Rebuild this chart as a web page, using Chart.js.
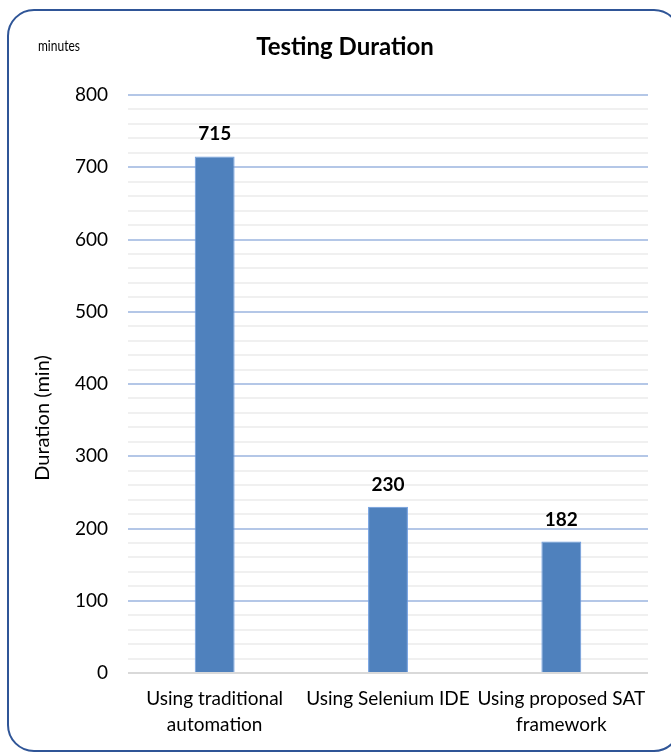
<!DOCTYPE html>
<html>
<head>
<meta charset="utf-8">
<script src="https://cdn.jsdelivr.net/npm/chart.js@4/dist/chart.umd.min.js"></script>
<style>
html,body{margin:0;padding:0;background:#fff;}
#wrap{width:671px;height:753px;position:relative;}
</style>
</head>
<body>
<div id="wrap"><canvas id="c" width="671" height="753"></canvas></div>
<script>
const categories = [['Using traditional','automation'], ['Using Selenium IDE'], ['Using proposed SAT','framework']];
const durations = [715, 230, 182];
const yMin = 0, yMax = 800, yMinorStep = 20, yMajorStep = 100;
const chartTitle = 'Testing Duration';
const unitNote = 'minutes';
const yAxisTitle = 'Duration (min)';

const FONT = 'Lato, "Open Sans", sans-serif';

const frame = {
  id: 'frame',
  beforeDraw(chart) {
    const ctx = chart.ctx;
    ctx.save();
    ctx.fillStyle = '#fff';
    ctx.fillRect(0,0,chart.width,chart.height);
    ctx.strokeStyle = '#2f5597';
    ctx.lineWidth = 2;
    ctx.beginPath();
    ctx.roundRect(8, 10, 672, 741, 26);
    ctx.stroke();
    ctx.restore();
  },
  afterDraw(chart) {
    const ctx = chart.ctx;
    ctx.save();
    ctx.fillStyle = '#000';
    ctx.textAlign = 'center';
    ctx.textBaseline = 'alphabetic';
    ctx.font = 'bold 24px ' + FONT;
    ctx.fillText(chartTitle, 345, 55);
    // unit note
    ctx.textAlign = 'left';
    ctx.font = '15px ' + FONT;
    ctx.save();
    ctx.translate(38, 51);
    ctx.scale(0.8, 1);
    ctx.fillText(unitNote, 0, 0);
    ctx.restore();
    // y axis title
    ctx.save();
    ctx.translate(49, 418);
    ctx.rotate(-Math.PI / 2);
    ctx.textAlign = 'center';
    ctx.font = '20px ' + FONT;
    ctx.fillText(yAxisTitle, 0, 0);
    ctx.restore();
    // data labels
    ctx.textAlign = 'center';
    ctx.font = 'bold 19px ' + FONT;
    const meta = chart.getDatasetMeta(0);
    meta.data.forEach((bar, i) => {
      ctx.fillText(String(durations[i]), bar.x, bar.y - 16);
    });
    ctx.restore();
  }
};

new Chart(document.getElementById('c'), {
  type: 'bar',
  data: {
    labels: categories,
    datasets: [{
      data: durations,
      backgroundColor: '#4f81bd',
      borderColor: '#6b9be0',
      borderWidth: 1,
      barPercentage: 0.23,
      categoryPercentage: 1
    }]
  },
  options: {
    responsive: false,
    animation: false,
    layout: { padding: { left: 28, right: 23, top: 95, bottom: 0 } },
    plugins: { legend: { display: false }, tooltip: { enabled: false }, title: { display: false } },
    scales: {
      x: {
        grid: { display: false, drawTicks: false },
        border: { display: false },
        ticks: {
          color: '#000', font: { family: FONT, size: 19, lineHeight: 1.37 },
          padding: 13, maxRotation: 0, autoSkip: false
        },
        afterFit(s) { s.height = 80; }
      },
      y: {
        min: yMin, max: yMax,
        border: { display: false },
        grid: {
          drawTicks: false,
          color: ctx => ctx.tick.value === 0 ? '#d9d9d9' : (ctx.tick.value % yMajorStep === 0 ? '#b4c7e7' : '#f0f0f0'),
          lineWidth: 2
        },
        ticks: {
          stepSize: yMinorStep, autoSkip: false, padding: 20,
          color: '#000', font: { family: FONT, size: 19 },
          callback: v => (v % yMajorStep === 0 ? String(v) : '')
        },
        title: { display: false },
        afterFit(s) { s.width = 100; }
      }
    }
  },
  plugins: [frame]
});
</script>
</body>
</html>
